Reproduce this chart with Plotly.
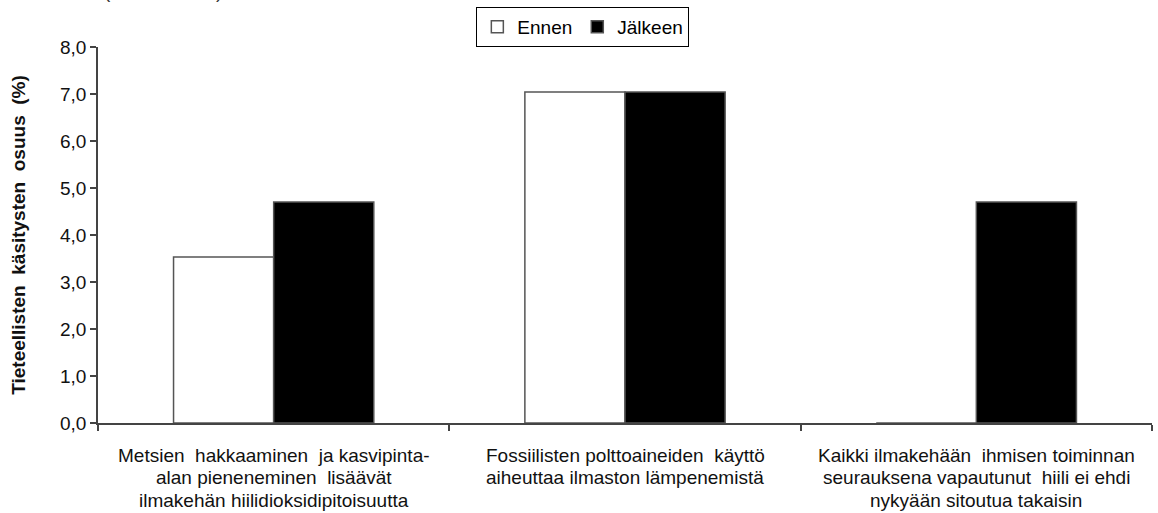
import plotly.graph_objects as go

categories = [
    "Metsien  hakkaaminen  ja kasvipinta-<br>alan pieneneminen  lisäävät<br>ilmakehän hiilidioksidipitoisuutta",
    "Fossiilisten polttoaineiden  käyttö<br>aiheuttaa ilmaston lämpenemistä",
    "Kaikki ilmakehään  ihmisen toiminnan<br>seurauksena vapautunut  hiili ei ehdi<br>nykyään sitoutua takaisin",
]
ennen = [3.53, 7.04, 0.0]
jalkeen = [4.70, 7.04, 4.70]
y_ticks = [0, 1, 2, 3, 4, 5, 6, 7, 8]

FONT = "Liberation Sans, Arial, sans-serif"
xpos = list(range(len(categories)))

fig = go.Figure()
fig.add_trace(go.Bar(
    x=xpos, y=ennen, name="Ennen",
    marker=dict(color="white", line=dict(color="#555555", width=1.5)),
))
fig.add_trace(go.Bar(
    x=xpos, y=jalkeen, name="Jälkeen",
    marker=dict(color="black", line=dict(color="#555555", width=1.5)),
))

# category labels under each group, one line at a time for tight leading
LINE_STEP = 22.5
for i, label in enumerate(categories):
    for j, line in enumerate(label.split("<br>")):
        fig.add_annotation(
            x=i, y=0, xref="x", yref="paper", yanchor="middle",
            yshift=-32 - j * LINE_STEP,
            text=line, showarrow=False, align="center",
            font=dict(family=FONT, size=19, color="#111111"),
        )

# chart heading sitting above the page edge
fig.add_annotation(
    x=0.0, xref="paper", xanchor="left", xshift=4,
    y=1.0, yref="paper", yanchor="bottom", yshift=43,
    text="(                    )", showarrow=False,
    font=dict(family=FONT, size=19, color="#333333"),
)

fig.update_layout(
    width=1158, height=513,
    margin=dict(l=98, r=6, t=47, b=90),
    paper_bgcolor="white", plot_bgcolor="white",
    separators=", ",
    barmode="group", bargap=0.43, bargroupgap=0,
    font=dict(family=FONT, size=19, color="#111111"),
    showlegend=True,
    legend=dict(
        orientation="h", x=0.46, xanchor="center", y=1.0, yanchor="bottom",
        bordercolor="black", borderwidth=1, bgcolor="white",
        font=dict(family=FONT, size=19, color="black"),
        itemwidth=30, tracegroupgap=0,
    ),
    xaxis=dict(
        range=[-0.5, len(categories) - 0.5],
        tickvals=[i - 0.5 for i in range(len(categories) + 1)],
        ticktext=[""] * (len(categories) + 1),
        ticks="outside", ticklen=6, tickcolor="#444444", tickwidth=1.5,
        showline=True, linecolor="#444444", linewidth=1.5,
        showgrid=False, zeroline=False,
    ),
    yaxis=dict(
        range=[0, 8], tickvals=y_ticks, tickformat=".1f",
        ticks="outside", ticklen=6, tickcolor="#444444", tickwidth=1.5,
        showline=True, linecolor="#444444", linewidth=1.5,
        showgrid=False, zeroline=False,
        tickfont=dict(family=FONT, size=19, color="#111111"),
        title=dict(
            text="<b>Tieteellisten  käsitysten  osuus  (%)</b>",
            font=dict(family=FONT, size=19, color="#111111"),
            standoff=29,
        ),
    ),
)

fig.write_html("out.html")
